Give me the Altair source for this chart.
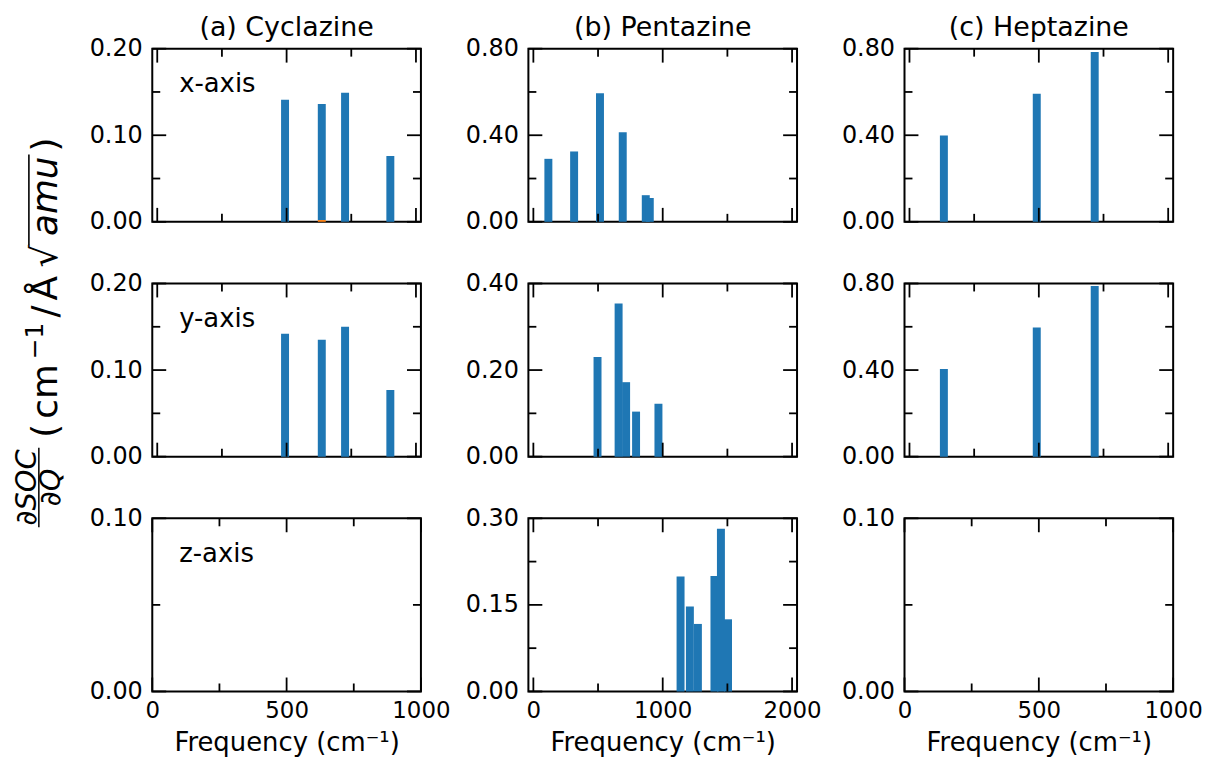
import altair as alt
import pandas as pd

FONT = "DejaVu Sans"
W, H = 270, 174
BLUE = "#1f77b4"
ORANGE = "#ff7f0e"

# ---------------- data ----------------
# (a) Cyclazine
cyc_x_freq = [494, 636, 726, 901]
cyc_x_val = [0.141, 0.134, 0.149, 0.076]
cyc_x_or_freq = [636]
cyc_x_or_val = [0.002]
cyc_y_freq = [494, 636, 726, 901]
cyc_y_val = [0.142, 0.135, 0.150, 0.077]
cyc_z_freq = []
cyc_z_val = []
# (b) Pentazine
pen_x_freq = [116, 315, 515, 691, 869, 900]
pen_x_val = [0.291, 0.325, 0.594, 0.414, 0.123, 0.110]
pen_y_freq = [496, 659, 717, 794, 967]
pen_y_val = [0.230, 0.354, 0.172, 0.104, 0.122]
pen_z_freq = [1138, 1210, 1272, 1400, 1505, 1450]
pen_z_val = [0.199, 0.147, 0.117, 0.200, 0.125, 0.282]
# (c) Heptazine
hep_x_freq = [133, 492, 716]
hep_x_val = [0.399, 0.592, 0.785]
hep_y_freq = [133, 492, 716]
hep_y_val = [0.405, 0.597, 0.788]
hep_z_freq = []
hep_z_val = []

titles = ["(a) Cyclazine", "(b) Pentazine", "(c) Heptazine"]
axis_tags = ["x-axis", "y-axis", "z-axis"]
x_title = "Frequency (cm⁻¹)"

x1000_major = [0, 500, 1000]
x1000_minor = [250, 750]
x2000_major = [0, 1000, 2000]
x2000_minor = [500, 1500]

# y title pieces: text, font size, italic, superscript
ylab_pieces = [("(", 36, False, False), ("cm", 36, False, False), ("−1", 25, False, True),
               ("/", 36, False, False), ("Å", 36, False, False), ("√", 36, False, False),
               ("amu", 36, True, False), (")", 36, False, False)]
EM = {"(": 0.39, ")": 0.39, "c": 0.55, "m": 0.974, "−": 0.838, "1": 0.636, "/": 0.337,
      "Å": 0.684, "√": 0.838, "a": 0.613, "u": 0.634}

MAJ, MIN = 14, 8
TW = 1.8


def ytitle_layers():
    out = []
    base_x = -96          # baseline of the rotated text, relative to the panel
    pos = 155             # bottom end of the parenthesis text, relative to panel top
    gap = 5
    amu_span = None
    for txt, fs, it, sup in ylab_pieces:
        w = sum(EM[ch] for ch in txt) * fs
        center = pos - w / 2
        out.append(alt.Chart().mark_text(
            text=txt, angle=270, align="center", baseline="alphabetic", font=FONT, fontSize=fs,
            fontStyle="italic" if it else "normal", color="black").encode(
            x=alt.value(base_x - 14 if sup else base_x), y=alt.value(center)))
        if txt == "√":
            amu_span = [pos - w + 4]
        if txt == "amu":
            amu_span.append(pos - w - 2)
        pos -= w + gap
    out.append(alt.Chart().mark_rule(color="black", strokeWidth=1.6).encode(
        x=alt.value(base_x - 28), y=alt.value(amu_span[0]), y2=alt.value(amu_span[1])))
    # fraction dSOC / dQ
    out.append(alt.Chart().mark_text(text="∂SOC", angle=270, align="center", baseline="middle",
                                     font=FONT, fontSize=29, fontStyle="italic", color="black").encode(
        x=alt.value(-126), y=alt.value(205)))
    out.append(alt.Chart().mark_rule(color="black", strokeWidth=1.5).encode(
        x=alt.value(-114), y=alt.value(165), y2=alt.value(245)))
    out.append(alt.Chart().mark_text(text="∂Q", angle=270, align="center", baseline="middle",
                                     font=FONT, fontSize=29, fontStyle="italic", color="black").encode(
        x=alt.value(-102), y=alt.value(205)))
    return out


def make_panel(freq, val, or_freq, or_val, xmax, ymax, xmaj, xmin, ymaj, ymin,
               show_xlab, title=None, tag=None, ylabel=False):
    xs = alt.Scale(domain=[0, xmax], nice=False, zero=False)
    ys = alt.Scale(domain=[0, ymax], nice=False, zero=False)

    if show_xlab:
        xaxis = alt.Axis(values=xmaj, format="d", ticks=False, domain=False, grid=False,
                         labelFlush=False, labelOverlap=False, labelPadding=8,
                         labelFont=FONT, labelFontSize=23, labelColor="black",
                         title=x_title, titleFont=FONT, titleFontSize=26, titleFontWeight="normal",
                         titleColor="black", titlePadding=7)
    else:
        xaxis = alt.Axis(values=xmaj, labels=False, ticks=False, domain=False, grid=False, title=None)
    yaxis = alt.Axis(values=ymaj, format=".2f", ticks=False, domain=False, grid=False,
                     labelFlush=False, labelOverlap=False, labelPadding=10,
                     labelFont=FONT, labelFontSize=24, labelColor="black", title=None)

    xmaj_df = pd.DataFrame({"v": xmaj})
    xmin_df = pd.DataFrame({"v": xmin})
    ymaj_df = pd.DataFrame({"v": ymaj})
    ymin_df = pd.DataFrame({"v": ymin})

    def xr(df, length, top):
        y0 = 0 if top else H
        y1 = length if top else H - length
        return alt.Chart(df).mark_rule(color="black", strokeWidth=TW).encode(
            x=alt.X("v:Q", scale=xs, axis=xaxis), y=alt.value(y0), y2=alt.value(y1))

    def yr(df, length, right):
        x0 = W if right else 0
        x1 = W - length if right else length
        return alt.Chart(df).mark_rule(color="black", strokeWidth=TW).encode(
            y=alt.Y("v:Q", scale=ys, axis=yaxis), x=alt.value(x0), x2=alt.value(x1))

    layers = [
        xr(xmaj_df, MAJ, False), xr(xmaj_df, MAJ, True),
        xr(xmin_df, MIN, False), xr(xmin_df, MIN, True),
        yr(ymaj_df, MAJ, False), yr(ymaj_df, MAJ, True),
        yr(ymin_df, MIN, False), yr(ymin_df, MIN, True),
    ]

    rows = [{"f": f, "v": v, "s": "blue"} for f, v in zip(freq, val)]
    rows += [{"f": f, "v": v, "s": "orange"} for f, v in zip(or_freq, or_val)]
    if rows:
        bars = alt.Chart(pd.DataFrame(rows)).mark_bar(size=8).encode(
            x=alt.X("f:Q", scale=xs, axis=xaxis),
            y=alt.Y("v:Q", scale=ys, axis=yaxis),
            color=alt.Color("s:N", scale=alt.Scale(domain=["blue", "orange"], range=[BLUE, ORANGE]), legend=None),
        )
        layers.insert(0, bars)

    if tag:
        layers.append(alt.Chart().mark_text(text=tag, align="left", baseline="alphabetic",
                                            font=FONT, fontSize=26, color="black").encode(
            x=alt.value(27), y=alt.value(44)))
    if title:
        layers.append(alt.Chart().mark_text(text=title, align="center", baseline="alphabetic",
                                            font=FONT, fontSize=27, color="black").encode(
            x=alt.value(W / 2), y=alt.value(-13)))
    if ylabel:
        layers += ytitle_layers()

    return alt.layer(*layers).properties(width=W, height=H)


def y_ticks(top):
    return [0, top / 2, top], [top / 4, 3 * top / 4]


data = {
    (0, 0): (cyc_x_freq, cyc_x_val, cyc_x_or_freq, cyc_x_or_val, 1000, 0.2),
    (1, 0): (cyc_y_freq, cyc_y_val, [], [], 1000, 0.2),
    (2, 0): (cyc_z_freq, cyc_z_val, [], [], 1000, 0.1),
    (0, 1): (pen_x_freq, pen_x_val, [], [], 2000, 0.8),
    (1, 1): (pen_y_freq, pen_y_val, [], [], 2000, 0.4),
    (2, 1): (pen_z_freq, pen_z_val, [], [], 2000, 0.3),
    (0, 2): (hep_x_freq, hep_x_val, [], [], 1000, 0.8),
    (1, 2): (hep_y_freq, hep_y_val, [], [], 1000, 0.8),
    (2, 2): (hep_z_freq, hep_z_val, [], [], 1000, 0.1),
}

panels = []
for r in range(3):
    for c in range(3):
        f, v, of, ov, xmax, ymax = data[(r, c)]
        xmaj, xmin = (x2000_major, x2000_minor) if xmax == 2000 else (x1000_major, x1000_minor)
        if ymax == 0.1:
            ymaj, ymin = [0, 0.1], [0.05]
        else:
            ymaj, ymin = y_ticks(ymax)
        panels.append(make_panel(
            f, v, of, ov, xmax, ymax, xmaj, xmin, ymaj, ymin,
            show_xlab=(r == 2),
            title=titles[c] if r == 0 else None,
            tag=axis_tags[r] if c == 0 else None,
            ylabel=(r == 1 and c == 0)))

chart = alt.concat(*panels, columns=3, spacing={"row": 62, "column": 108}, bounds="flush").properties(
    padding={"left": 4, "top": 3, "right": 0, "bottom": 0}
).configure_view(stroke="black", strokeWidth=2)

chart.save("out.html", embed_options={"renderer": "svg", "actions": False})
